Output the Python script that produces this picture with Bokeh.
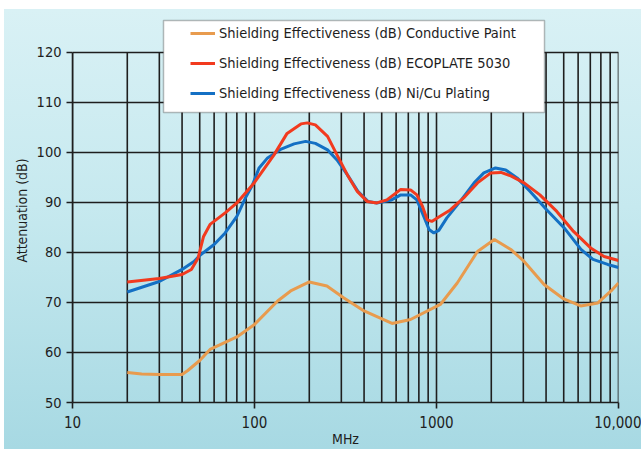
from bokeh.plotting import figure
from bokeh.models import FixedTicker, Legend, LegendItem, BoxAnnotation, Range1d
from bokeh.embed import file_html
from bokeh.resources import INLINE

# ---- data ----
freq_paint = [20, 24, 30, 40, 43, 50, 57, 80, 100, 134, 158, 200, 250, 310, 400,
              570, 720, 1050, 1300, 1680, 2080, 2560, 3030, 3900, 5000, 6200,
              7700, 9100, 10000]
se_paint = [56.0, 55.7, 55.6, 55.6, 56.4, 58.4, 60.6, 63.1, 65.6, 70.3, 72.3,
            74.1, 73.3, 70.9, 68.3, 65.8, 66.6, 69.6, 73.9, 80.2, 82.6, 80.6,
            78.2, 73.6, 70.7, 69.3, 69.9, 72.3, 73.9]

freq_eco = [20, 30, 40, 45, 49, 52.5, 57, 69, 80, 100, 128, 151, 180, 195, 216,
            252, 284, 324, 367, 416, 470, 534, 636, 720, 780, 838, 890, 942,
            1030, 1190, 1410, 1680, 1990, 2260, 2560, 3030, 3700, 4580, 5660,
            7030, 8330, 10000]
se_eco = [74.1, 74.8, 75.6, 76.6, 78.9, 83.2, 85.6, 87.9, 89.9, 94.0, 99.5,
          103.8, 105.7, 105.9, 105.5, 103.2, 99.5, 95.5, 92.2, 90.2, 89.9, 90.5,
          92.6, 92.5, 91.5, 89.2, 86.5, 86.2, 87.1, 88.5, 90.9, 93.9, 95.9, 96.0,
          95.3, 93.9, 91.5, 88.2, 84.2, 80.9, 79.2, 78.4]

freq_nicu = [20, 30, 40, 46.5, 50, 60, 69, 80, 90, 97.5, 106, 118, 139, 165, 191,
             216, 252, 284, 324, 370, 420, 470, 566, 636, 720, 780, 858, 910,
             967, 1030, 1140, 1350, 1610, 1820, 2110, 2400, 2770, 3270, 4040,
             5030, 6220, 7240, 8720, 10000]
se_nicu = [72.1, 74.2, 76.6, 78.2, 79.4, 81.6, 83.9, 87.2, 91.2, 93.5, 96.9,
           98.9, 100.6, 101.7, 102.2, 101.8, 100.5, 98.5, 95.5, 92.2, 90.2, 89.9,
           90.5, 91.5, 91.5, 90.5, 86.9, 84.6, 83.9, 84.4, 86.9, 90.2, 93.9, 95.9,
           96.9, 96.5, 94.9, 92.2, 88.5, 84.9, 80.6, 78.6, 77.6, 77.0]

series_names = ["Shielding Effectiveness (dB) Conductive Paint",
                "Shielding Effectiveness (dB) ECOPLATE 5030",
                "Shielding Effectiveness (dB) Ni/Cu Plating"]

x_ticks = [10, 100, 1000, 10000]
x_tick_labels = ["10", "100", "1000", "10,000"]
x_minor = [m * d for d in (10, 100, 1000) for m in range(2, 10)]
y_ticks = [50, 60, 70, 80, 90, 100, 110, 120]
y_min, y_max = 50, 120

FONT = "DejaVu Sans Condensed, Liberation Sans"
INK = "#1e1e1e"

p = figure(width=641, height=449, x_axis_type="log",
           x_range=Range1d(10, 10000), y_range=Range1d(y_min, 126.77),
           output_backend="svg", toolbar_location=None,
           min_border_left=72, min_border_right=23,
           min_border_top=18, min_border_bottom=46)

p.styles = {
    "background-color": "white",
    "background-image": "linear-gradient(180deg, #d9f1f5 0%, #c6e9ef 45%, #a7d9e3 100%)",
    "background-size": "637px 440px",
    "background-position": "4px 9px",
    "background-repeat": "no-repeat",
}
p.border_fill_alpha = 0
p.background_fill_alpha = 0
p.outline_line_color = None

# axes
p.xaxis.ticker = FixedTicker(ticks=x_ticks, minor_ticks=x_minor)
p.xaxis.major_label_overrides = {t: l for t, l in zip(x_ticks, x_tick_labels)}
p.yaxis.ticker = FixedTicker(ticks=y_ticks)
p.yaxis.bounds = (y_min, y_max)
for ax in (p.xaxis, p.yaxis):
    ax.axis_line_color = INK
    ax.axis_line_width = 1.6
    ax.major_tick_line_color = INK
    ax.major_tick_line_width = 1.6
    ax.major_tick_out = 6
    ax.major_tick_in = 0
    ax.minor_tick_line_color = None
    ax.major_label_text_font = FONT
    ax.major_label_text_font_size = "14.5px"
    ax.major_label_text_color = INK
    ax.major_label_standoff = 5
    ax.axis_label_text_font = FONT
    ax.axis_label_text_font_size = "14px"
    ax.axis_label_text_font_style = "normal"
    ax.axis_label_text_color = INK
p.xaxis.major_label_text_font_size = "15px"
p.xaxis.major_label_standoff = 7

p.yaxis.axis_label = "Attenuation (dB)"
p.yaxis.axis_label_standoff = 4
p.xaxis.axis_label = "MHz"
p.xaxis.axis_label_standoff = 0

# grids: horizontal via ygrid, vertical lines bounded to the 50..120 band
p.xgrid.grid_line_color = None
p.ygrid.ticker = FixedTicker(ticks=y_ticks)
p.ygrid.grid_line_color = INK
p.ygrid.grid_line_width = 1.6
x_lines = x_ticks + x_minor
p.segment(x0=x_lines, y0=[y_min] * len(x_lines), x1=x_lines,
          y1=[y_max] * len(x_lines), line_color=INK, line_width=1.6)

# series
r_paint = p.line(freq_paint, se_paint, line_color="#E89B4E", line_width=3)
r_nicu = p.line(freq_nicu, se_nicu, line_color="#1470C4", line_width=3)
r_eco = p.line(freq_eco, se_eco, line_color="#F23A1E", line_width=3)

# legend box
box = BoxAnnotation(left=163, right=544, top=20, bottom=112,
                    left_units="canvas", right_units="canvas",
                    top_units="canvas", bottom_units="canvas",
                    fill_color="white", fill_alpha=1,
                    line_color=INK, line_width=1.5, level="annotation")
p.add_layout(box, "center")

legend = Legend(items=[LegendItem(label=series_names[0], renderers=[r_paint]),
                       LegendItem(label=series_names[1], renderers=[r_eco]),
                       LegendItem(label=series_names[2], renderers=[r_nicu])],
                location=(118, 299), padding=0, margin=0, spacing=10,
                glyph_width=25, glyph_height=20, label_height=20,
                label_standoff=4, label_text_font=FONT,
                label_text_font_size="14.5px", label_text_color=INK,
                background_fill_alpha=0, border_line_color=None)
p.add_layout(legend, "center")

open("out.html", "w").write(file_html(p, INLINE))
